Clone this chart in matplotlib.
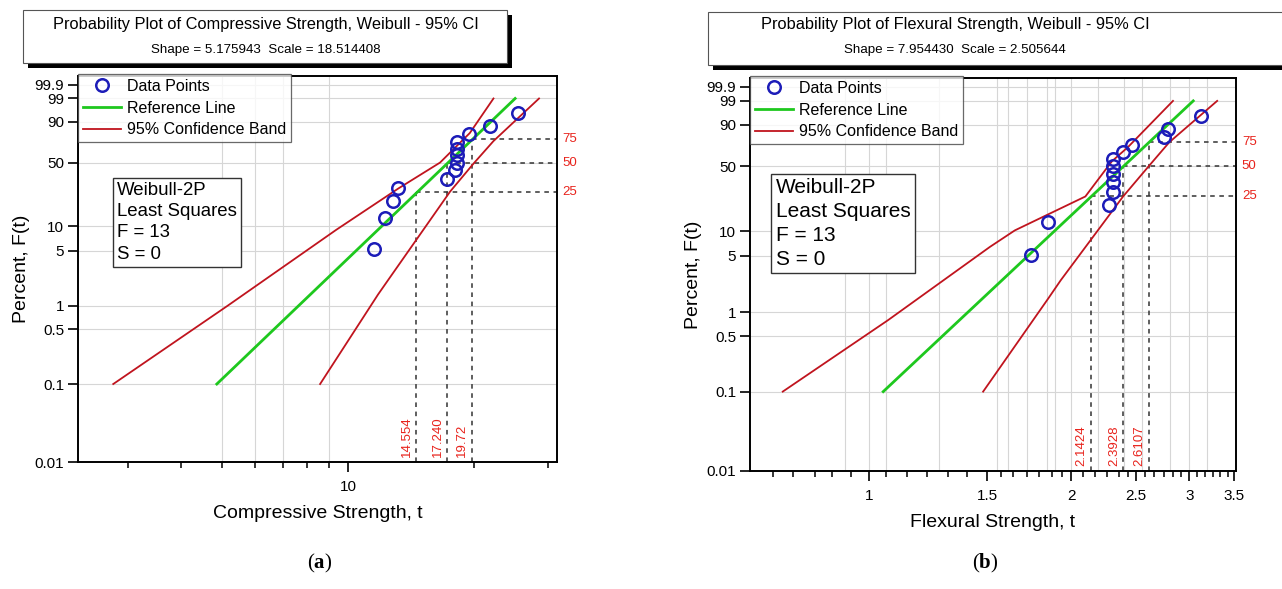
import numpy as np
import matplotlib
matplotlib.use("Agg")
import matplotlib.pyplot as plt
from matplotlib.patches import Rectangle
from matplotlib.lines import Line2D
from matplotlib.ticker import NullFormatter, FixedLocator
from matplotlib import font_manager

# ---------------- data: (a) compressive strength ----------------
comp_title = "Probability Plot of Compressive Strength, Weibull - 95% CI"
comp_sub = "Shape = 5.175943  Scale = 18.514408"
comp_xlabel = "Compressive Strength, t"
comp_t = [11.55, 12.25, 12.78, 13.18, 17.18, 17.98, 18.15, 18.15, 18.15, 18.15, 19.45, 21.78, 25.4]
comp_pct = [5.2, 12.7, 20.1, 27.6, 35.1, 42.5, 50.0, 57.5, 64.9, 72.4, 79.9, 87.3, 94.8]
comp_ref_t = [4.87, 25.0]
comp_ref_pct = [0.1, 99.0]
comp_upper_t = [2.76, 5.16, 9.38, 13.18, 16.56, 19.5, 22.2]
comp_upper_pct = [0.1, 1.0, 9.1, 27.6, 50.0, 81.0, 99.0]
comp_lower_t = [8.58, 11.79, 12.47, 17.5, 19.9, 22.2, 28.5]
comp_lower_pct = [0.1, 1.4, 2.15, 25.5, 49.0, 73.0, 99.0]
comp_q_pct = [25, 50, 75]
comp_q_t = [14.554, 17.240, 19.72]
comp_q_labels = ["14.554", "17.240", "19.72"]
comp_xmajor = [10]
comp_xmajor_labels = ["10"]
comp_xminor = [3, 4, 5, 6, 7, 8, 9, 20, 30]
comp_xgrid = [5, 6, 7, 9]
comp_xlim = (2.275, 31.45)

# ---------------- data: (b) flexural strength ----------------
flex_title = "Probability Plot of Flexural Strength, Weibull - 95% CI"
flex_sub = "Shape = 7.954430  Scale = 2.505644"
flex_xlabel = "Flexural Strength, t"
flex_t = [1.74, 1.85, 2.28, 2.31, 2.31, 2.31, 2.31, 2.31, 2.39, 2.46, 2.75, 2.79, 3.12]
flex_pct = [5.2, 12.7, 20.1, 27.6, 35.1, 42.5, 50.0, 57.5, 64.9, 72.4, 79.9, 87.3, 94.8]
flex_ref_t = [1.05, 3.04]
flex_ref_pct = [0.1, 99.0]
flex_upper_t = [0.744, 1.067, 1.514, 1.649, 2.10, 2.30, 2.43, 2.836]
flex_upper_pct = [0.1, 0.79, 6.45, 10.2, 25.0, 55.0, 70.0, 99.0]
flex_lower_t = [1.479, 1.849, 1.93, 2.39, 2.61, 2.80, 3.30]
flex_lower_pct = [0.1, 1.48, 2.5, 25.0, 50.0, 75.0, 99.0]
flex_q_pct = [25, 50, 75]
flex_q_t = [2.1424, 2.3928, 2.6107]
flex_q_labels = ["2.1424", "2.3928", "2.6107"]
flex_xmajor = [1, 1.5, 2, 2.5, 3, 3.5]
flex_xmajor_labels = ["1", "1.5", "2", "2.5", "3", "3.5"]
flex_xminor = [0.72, 0.77, 0.83, 0.88, 0.94, 1.06, 1.14, 1.22, 1.31, 1.40,
               1.57, 1.64, 1.72, 1.79, 1.87, 1.94, 2.08, 2.17, 2.26, 2.36, 2.43,
               2.58, 2.66, 2.75, 2.84, 2.92, 3.08, 3.16, 3.25, 3.33, 3.42]
flex_xgrid = [0.92, 1.0, 1.06, 1.27, 1.55, 1.61, 1.72, 1.84, 1.89, 2.0, 2.19, 2.4, 2.55, 2.81, 3.0, 3.19]
flex_xlim = (0.665, 3.52)

# shared
y_ticks = [0.01, 0.1, 0.5, 1, 5, 10, 50, 90, 99, 99.9]
y_tick_labels = ["0.01", "0.1", "0.5", "1", "5", "10", "50", "90", "99", "99.9"]
y_lim = (0.01, 99.987)
info_lines = "Weibull-2P\nLeast Squares\nF = 13\nS = 0"
legend_labels = ["Data Points", "Reference Line", "95% Confidence Band"]

# ---------------- style ----------------
W, H = 1282, 589
names = {f.name for f in font_manager.fontManager.ttflist}
SANS = ["Liberation Sans", "DejaVu Sans"]
if "Liberation Sans Narrow" in names:
    TITLE_FAM, TITLE_SIZE, SUB_SIZE = ["Liberation Sans Narrow", "Liberation Sans"], 14.0, 11.3
else:
    TITLE_FAM, TITLE_SIZE, SUB_SIZE = SANS, 11.8, 9.6
plt.rcParams["font.family"] = SANS
plt.rcParams["mathtext.fontset"] = "custom"
plt.rcParams["mathtext.rm"] = "Liberation Serif"
plt.rcParams["mathtext.bf"] = "Liberation Serif:bold"

BLUE = "#1c1cb8"
GREEN = "#1ec81e"
RED = "#c0141e"
LRED = "#e8231c"
GRID = "#d6d6d6"


def wfwd(p):
    p = np.clip(np.asarray(p, dtype=float), 1e-9, 100 - 1e-9)
    return np.log(-np.log(1.0 - p / 100.0))


def winv(w):
    w = np.clip(np.asarray(w, dtype=float), -60, 3.5)
    return 100.0 * (1.0 - np.exp(-np.exp(w)))


def fr(x0, y0, x1, y1):
    """pixel box (top-left origin) -> figure fraction rect"""
    return (x0 / W, 1 - y1 / H, (x1 - x0) / W, (y1 - y0) / H)


fig = plt.figure(figsize=(W / 100, H / 100), dpi=100)
fig.patch.set_facecolor("white")


def title_box(x0, y0, x1, y1, cx, title, sub):
    sx, sy, sw, sh = fr(x0 + 5, y0 + 5, x1 + 5, y1 + 5)
    fig.add_artist(Rectangle((sx, sy), sw, sh, transform=fig.transFigure,
                             facecolor="black", edgecolor="none", zorder=1))
    bx, by, bw, bh = fr(x0, y0, x1, y1)
    fig.add_artist(Rectangle((bx, by), bw, bh, transform=fig.transFigure,
                             facecolor="white", edgecolor="#555555", lw=0.8, zorder=2))
    fig.text(cx / W, 1 - 25 / H, title, ha="center", va="center",
             fontsize=TITLE_SIZE, family=TITLE_FAM, zorder=3)
    fig.text(cx / W, 1 - 50 / H, sub, ha="center", va="center",
             fontsize=SUB_SIZE, family=TITLE_FAM, zorder=3)


title_box(23, 10, 507, 63, 266, comp_title, comp_sub)
title_box(708, 12, 1290, 65, 955, flex_title, flex_sub)


def panel(rect, t, pct, ref_t, ref_pct, up_t, up_pct, lo_t, lo_pct,
          q_pct, q_t, q_labels, xmaj, xmaj_lab, xmin, xgrid, xlim, xlabel,
          info_xy, info_size):
    ax = fig.add_axes(fr(*rect))
    ax.set_xscale("log")
    ax.set_yscale("function", functions=(wfwd, winv))
    ax.set_xlim(*xlim)
    ax.set_ylim(*y_lim)

    # grid
    for g in y_ticks[1:]:
        ax.axhline(g, color=GRID, lw=0.8, zorder=0)
    for g in xgrid:
        ax.axvline(g, color=GRID, lw=0.8, zorder=0)

    # dashed quantile guides
    for p, q in zip(q_pct, q_t):
        ax.plot([q, q], [y_lim[0], p], color="#333333", lw=1.1, ls=(0, (3, 3)), zorder=2)
        ax.plot([q, xlim[1]], [p, p], color="#333333", lw=1.1, ls=(0, (3, 3)), zorder=2)
    for p, q, lab in zip(q_pct, q_t, q_labels):
        ax.annotate(lab, xy=(q, 0), xycoords=("data", "axes fraction"),
                    xytext=(-2.5, 3.5), textcoords="offset points", rotation=90,
                    ha="right", va="bottom", color=LRED, fontsize=9.5)
        ax.text(1.012, p, str(p), transform=ax.get_yaxis_transform(),
                ha="left", va="center", color=LRED, fontsize=9.5, clip_on=False)

    ax.plot(up_t, up_pct, color=RED, lw=1.3, zorder=3)
    ax.plot(lo_t, lo_pct, color=RED, lw=1.3, zorder=3)
    ax.plot(ref_t, ref_pct, color=GREEN, lw=2.0, zorder=4)
    ax.plot(t, pct, ls="none", marker="o", ms=9, mfc="none", mec=BLUE, mew=1.8, zorder=5)

    # ticks
    ax.set_yticks(y_ticks)
    ax.set_yticklabels(y_tick_labels)
    ax.yaxis.set_minor_locator(FixedLocator([]))
    ax.xaxis.set_major_locator(FixedLocator(xmaj))
    ax.set_xticklabels(xmaj_lab)
    ax.xaxis.set_minor_locator(FixedLocator(xmin))
    ax.xaxis.set_minor_formatter(NullFormatter())
    ax.tick_params(axis="both", which="major", direction="out", length=7, width=1.2,
                   labelsize=11, pad=3)
    ax.tick_params(axis="x", which="major", pad=6)
    ax.tick_params(axis="x", which="minor", direction="out", length=4, width=1.1)
    for s in ax.spines.values():
        s.set_linewidth(1.4)
        s.set_color("black")

    ax.set_xlabel(xlabel, fontsize=14, labelpad=8)
    ax.set_ylabel("Percent, F(t)", fontsize=14, labelpad=3)

    handles = [Line2D([], [], ls="none", marker="o", ms=9, mfc="none", mec=BLUE, mew=1.8),
               Line2D([], [], color=GREEN, lw=2.0),
               Line2D([], [], color=RED, lw=1.3)]
    leg = ax.legend(handles, legend_labels, loc="upper left", bbox_to_anchor=(0, 1.005),
                    borderaxespad=0, fontsize=11.5, frameon=True, fancybox=False,
                    handlelength=2.4, handletextpad=0.35, borderpad=0.3,
                    labelspacing=0.42)
    leg.get_frame().set_edgecolor("#444444")
    leg.get_frame().set_linewidth(0.9)
    leg.set_zorder(6)

    ax.text(info_xy[0], info_xy[1], info_lines, transform=ax.transAxes,
            ha="left", va="top", fontsize=info_size, linespacing=1.32, zorder=6,
            bbox=dict(boxstyle="square,pad=0.22", facecolor="white",
                      edgecolor="#333333", lw=1.0))
    return ax


panel((78, 76, 557, 462), comp_t, comp_pct, comp_ref_t, comp_ref_pct,
      comp_upper_t, comp_upper_pct, comp_lower_t, comp_lower_pct,
      comp_q_pct, comp_q_t, comp_q_labels, comp_xmajor, comp_xmajor_labels,
      comp_xminor, comp_xgrid, comp_xlim, comp_xlabel, (0.082, 0.725), 13.4)

panel((750, 78, 1236, 471), flex_t, flex_pct, flex_ref_t, flex_ref_pct,
      flex_upper_t, flex_upper_pct, flex_lower_t, flex_lower_pct,
      flex_q_pct, flex_q_t, flex_q_labels, flex_xmajor, flex_xmajor_labels,
      flex_xminor, flex_xgrid, flex_xlim, flex_xlabel, (0.053, 0.745), 15.0)

fig.text(320 / W, 1 - 563 / H, r"$\mathrm{(}\mathbf{a}\mathrm{)}$", ha="center", va="center",
         fontsize=15)
fig.text(985 / W, 1 - 563 / H, r"$\mathrm{(}\mathbf{b}\mathrm{)}$", ha="center", va="center",
         fontsize=15)

fig.savefig("out.png", dpi=100, facecolor="white")
